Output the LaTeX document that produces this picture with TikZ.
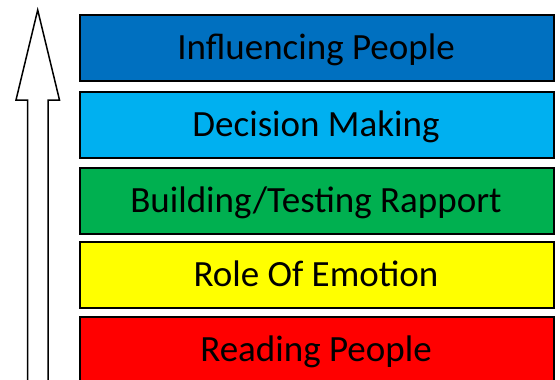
\documentclass[tikz,border=0pt]{standalone}
\usepackage{fontspec}
\setmainfont{Carlito}
\definecolor{cDark}{HTML}{0070C0}
\definecolor{cLight}{HTML}{00B0F0}
\definecolor{cGreen}{HTML}{00B050}
\definecolor{cYellow}{HTML}{FFFF00}
\definecolor{cRed}{HTML}{FF0000}
\tikzset{
  layer/.style={draw=black, line width=1.5pt, minimum width=474pt, minimum height=66pt, inner sep=0pt, anchor=north west},
  lbl/.style={font=\fontsize{37}{42}\selectfont, inner sep=0pt, anchor=base},
}
\begin{document}
\begin{tikzpicture}[x=1pt,y=-1pt]
\useasboundingbox (0,0) rectangle (560,380);
\clip (0,0) rectangle (560,380);
\node[layer, fill=cDark] (b1) at (79,14) {};
\node[layer, fill=cLight] (b2) at (79,91) {};
\node[layer, fill=cGreen] (b3) at (79,167) {};
\node[layer, fill=cYellow] (b4) at (79,241) {};
\node[layer, fill=cRed, minimum height=80pt] (b5) at (79,316) {};
\node[lbl] (t1) at (316,59) {Influencing People};
\node[lbl] (t2) at (316,136) {Decision Making};
\node[lbl] (t3) at (316,212) {Building/Testing Rapport};
\node[lbl] (t4) at (316,286) {Role Of Emotion};
\node[lbl] (t5) at (316,361) {Reading People};
\draw[line width=1.5pt, fill=white, line join=miter] (27.5,395) -- (27.5,100) -- (16,100) -- (37.7,10) -- (59.5,100) -- (48,100) -- (48,395);
\end{tikzpicture}
\end{document}
